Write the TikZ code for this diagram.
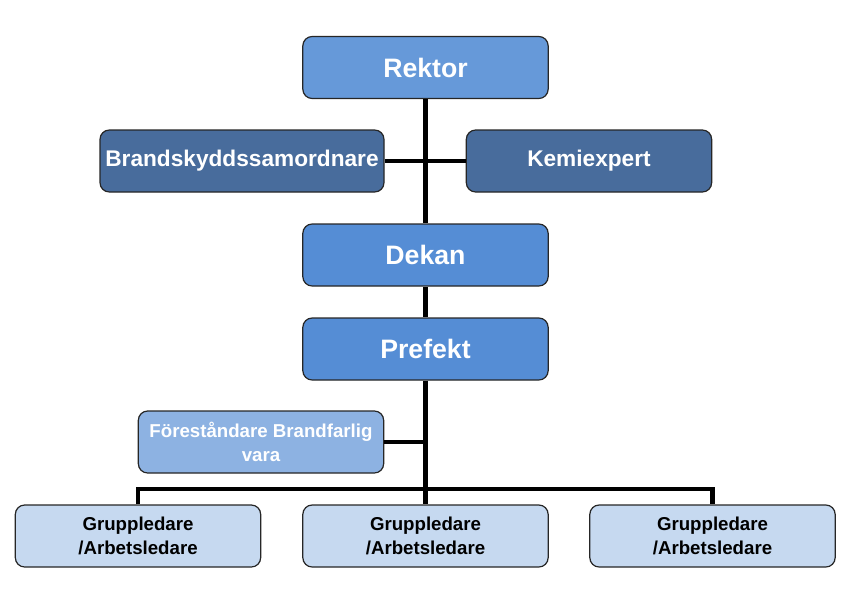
\documentclass[tikz,border=0pt]{standalone}
\usepackage{fontspec}
\setmainfont{Liberation Sans}
\definecolor{topblue}{RGB}{102,153,217}
\definecolor{midblue}{RGB}{85,141,213}
\definecolor{darkblue}{RGB}{72,108,156}
\definecolor{paleblue}{RGB}{141,178,226}
\definecolor{lightblue}{RGB}{198,217,240}
\tikzset{
  box/.style={draw=black!85, line width=0.9pt, rounded corners=7pt,
    minimum width=184pt, minimum height=46.5pt, align=center,
    font=\bfseries, inner sep=2pt},
  wire/.style={line width=3.6pt, black}
}
\begin{document}
\begin{tikzpicture}[x=0.75pt, y=-0.75pt]
    \useasboundingbox (0,0) rectangle (868,596);

        % Leadership chain
            \node[box, fill=topblue, text=white, font=\bfseries\fontsize{20}{24}\selectfont] (rektor) at (425.5,67.5) {Rektor};
            \node[box, fill=midblue, text=white, font=\bfseries\fontsize{20}{24}\selectfont] (dekan) at (425.5,255) {Dekan};
            \node[box, fill=midblue, text=white, font=\bfseries\fontsize{20}{24}\selectfont] (prefekt) at (425.5,349) {Prefekt};

            % Advisors beside the chain
            \node[box, fill=darkblue, text=white, minimum width=213pt, font=\bfseries\fontsize{17}{20}\selectfont] (brand) at (242,161) {Brandskyddssamordnare};
            \node[box, fill=darkblue, text=white, font=\bfseries\fontsize{17}{20}\selectfont] (kemi) at (589,161) {Kemiexpert};
            \node[box, fill=paleblue, text=white, font=\bfseries\fontsize{14}{18}\selectfont] (forest) at (261,442) {Föreståndare Brandfarlig\\vara};

            % Group leaders
            \node[box, fill=lightblue, font=\bfseries\fontsize{14}{18}\selectfont] (grupp1) at (138,536) {Gruppledare\\/Arbetsledare};
            \node[box, fill=lightblue, font=\bfseries\fontsize{14}{18}\selectfont] (grupp2) at (425.5,536) {Gruppledare\\/Arbetsledare};
            \node[box, fill=lightblue, font=\bfseries\fontsize{14}{18}\selectfont] (grupp3) at (712.5,536) {Gruppledare\\/Arbetsledare};

            % Connectors
            \coordinate (bus) at (425.5,489);
            \draw[wire] (rektor) -- (dekan);
            \draw[wire] (dekan) -- (prefekt);
            \draw[wire] (prefekt) -- (grupp2);
            \draw[wire] (brand) -- (kemi);
            \draw[wire] (forest.east) -- (forest.east -| bus);
            \draw[wire] (grupp1) |- (bus) -| (grupp3);

    \end{tikzpicture}
\end{document}
